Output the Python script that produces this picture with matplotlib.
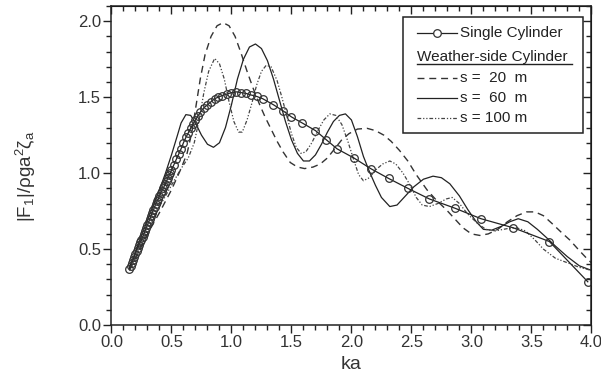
import matplotlib
matplotlib.use("Agg")
import matplotlib.pyplot as plt
from matplotlib.patches import Rectangle
from matplotlib.ticker import MultipleLocator, FormatStrFormatter

plt.rcParams['font.family'] = ['Liberation Sans', 'DejaVu Sans']
plt.rcParams['mathtext.fontset'] = 'custom'
plt.rcParams['mathtext.rm'] = 'Liberation Sans'
plt.rcParams['mathtext.it'] = 'Liberation Sans'

# single cylinder (markers at every point, very dense at low ka)
single_ka = [0.15, 0.16, 0.17, 0.18, 0.19, 0.20, 0.21, 0.22, 0.23, 0.24,
             0.25, 0.26, 0.27, 0.28, 0.29, 0.30, 0.31, 0.32, 0.33, 0.34,
             0.35, 0.36, 0.37, 0.38, 0.39, 0.40, 0.41, 0.42, 0.43, 0.44,
             0.45, 0.46, 0.47, 0.48, 0.49, 0.50,
             0.52, 0.54, 0.56, 0.58, 0.60, 0.62, 0.64, 0.66, 0.68, 0.70, 0.72,
             0.74, 0.77, 0.80, 0.83, 0.86, 0.89, 0.92,
             0.96, 1.00, 1.04, 1.08, 1.12, 1.16, 1.21, 1.26,
             1.35, 1.43, 1.50, 1.59, 1.70, 1.79, 1.88,
             2.02, 2.16, 2.31, 2.47, 2.65, 2.86, 3.08, 3.35, 3.65, 3.97]
single_f = [0.37, 0.39, 0.41, 0.43, 0.45, 0.47, 0.49, 0.51, 0.53, 0.545,
            0.56, 0.58, 0.60, 0.62, 0.64, 0.66, 0.68, 0.70, 0.72, 0.74,
            0.76, 0.78, 0.80, 0.815, 0.83, 0.85, 0.87, 0.885, 0.90, 0.915,
            0.93, 0.95, 0.97, 0.985, 1.00, 1.02,
            1.055, 1.09, 1.125, 1.16, 1.20, 1.235, 1.265, 1.295, 1.325, 1.35, 1.375,
            1.40, 1.43, 1.45, 1.47, 1.49, 1.50, 1.51,
            1.52, 1.53, 1.535, 1.53, 1.525, 1.515, 1.505, 1.49,
            1.45, 1.41, 1.37, 1.33, 1.28, 1.22, 1.16,
            1.10, 1.03, 0.965, 0.90, 0.83, 0.77, 0.70, 0.64, 0.55, 0.285]

# weather-side cylinder, s = 20 m
s20_ka = [0.15, 0.3, 0.4, 0.5, 0.58, 0.63, 0.67, 0.7, 0.74, 0.78, 0.83, 0.88,
          0.93, 0.98, 1.03, 1.08, 1.13, 1.18, 1.23, 1.28, 1.33, 1.38, 1.43,
          1.49, 1.55, 1.61, 1.68, 1.74, 1.8, 1.86, 1.92, 1.98, 2.05, 2.13,
          2.2, 2.27, 2.33, 2.40, 2.47, 2.54, 2.63, 2.71, 2.79, 2.86, 2.93,
          3.0, 3.07, 3.14, 3.22, 3.3, 3.38, 3.46, 3.53, 3.6, 3.67, 3.75,
          3.82, 3.9, 3.96, 4.0]
s20_f = [0.36, 0.60, 0.74, 0.89, 1.03, 1.13, 1.27, 1.42, 1.62, 1.78, 1.90, 1.97,
         1.99, 1.97, 1.90, 1.79, 1.67, 1.56, 1.46, 1.37, 1.29, 1.21, 1.14,
         1.07, 1.04, 1.03, 1.04, 1.06, 1.10, 1.16, 1.22, 1.26, 1.29, 1.295,
         1.28, 1.25, 1.21, 1.15, 1.08, 0.99, 0.89, 0.82, 0.76, 0.70, 0.64,
         0.60, 0.59, 0.60, 0.63, 0.68, 0.72, 0.745, 0.745, 0.72, 0.67, 0.61,
         0.56, 0.49, 0.44, 0.41]

# s = 60 m
s60_ka = [0.15, 0.3, 0.4, 0.45, 0.5, 0.55, 0.58, 0.62, 0.66, 0.7, 0.75, 0.8,
          0.85, 0.9, 0.95, 1.0, 1.05, 1.1, 1.15, 1.2, 1.25, 1.3, 1.35, 1.4,
          1.45, 1.5, 1.55, 1.6, 1.65, 1.7, 1.75, 1.8, 1.85, 1.9, 1.95, 2.0,
          2.05, 2.1, 2.15, 2.2, 2.25, 2.32, 2.38, 2.45, 2.52, 2.6, 2.68, 2.75,
          2.82, 2.9, 2.97, 3.04, 3.1, 3.17, 3.25, 3.32, 3.39, 3.47, 3.55,
          3.62, 3.7, 3.8, 3.9, 4.0]
s60_f = [0.38, 0.69, 0.89, 1.00, 1.12, 1.25, 1.33, 1.385, 1.38, 1.33, 1.25, 1.19,
         1.17, 1.20, 1.30, 1.45, 1.62, 1.75, 1.83, 1.85, 1.82, 1.74, 1.62, 1.48,
         1.34, 1.22, 1.13, 1.08, 1.08, 1.12, 1.19, 1.27, 1.34, 1.38, 1.39, 1.35,
         1.24, 1.11, 1.01, 0.92, 0.84, 0.78, 0.79, 0.85, 0.91, 0.96, 0.98, 0.97,
         0.93, 0.85, 0.76, 0.68, 0.63, 0.625, 0.65, 0.68, 0.70, 0.68, 0.63,
         0.58, 0.52, 0.45, 0.39, 0.36]

# s = 100 m
s100_ka = [0.15, 0.3, 0.4, 0.5, 0.58, 0.64, 0.69, 0.73, 0.77, 0.81, 0.86, 0.9,
           0.94, 0.98, 1.02, 1.06, 1.09, 1.13, 1.17, 1.21, 1.25, 1.29, 1.33,
           1.38, 1.42, 1.46, 1.5, 1.54, 1.58, 1.62, 1.67, 1.72, 1.77, 1.82,
           1.87, 1.92, 1.97, 2.02, 2.06, 2.10, 2.15, 2.2, 2.26, 2.32, 2.37,
           2.43, 2.49, 2.54, 2.59, 2.65, 2.72, 2.79, 2.84, 2.9, 2.97, 3.05,
           3.12, 3.2, 3.3, 3.38, 3.45, 3.53, 3.6, 3.7, 3.8, 3.9, 4.0]
s100_f = [0.36, 0.62, 0.78, 0.92, 1.03, 1.10, 1.20, 1.35, 1.53, 1.67, 1.755, 1.72,
          1.62, 1.47, 1.34, 1.27, 1.27, 1.35, 1.46, 1.58, 1.67, 1.71, 1.70,
          1.61, 1.50, 1.38, 1.26, 1.17, 1.13, 1.14, 1.20, 1.28, 1.35, 1.39,
          1.38, 1.32, 1.21, 1.085, 0.99, 0.95, 0.97, 1.02, 1.06, 1.08, 1.06,
          1.00, 0.92, 0.84, 0.79, 0.78, 0.80, 0.83, 0.84, 0.80, 0.73, 0.67,
          0.63, 0.62, 0.635, 0.64, 0.62, 0.56, 0.50, 0.44, 0.41, 0.38, 0.36]

fig = plt.figure(figsize=(6.01, 3.87), dpi=100)
ax = fig.add_axes([0.1855, 0.160, 0.7985, 0.8245])

ink = '#222222'
s20_style = dict(color='#333333', lw=1.0, dashes=(5, 3.5))
s60_style = dict(color=ink, lw=0.9)
s100_style = dict(color='#444444', lw=0.9, dashes=(3, 1.5, 1, 1.5, 1, 1.5))
ax.plot(s20_ka, s20_f, **s20_style)
ax.plot(s60_ka, s60_f, **s60_style)
ax.plot(s100_ka, s100_f, **s100_style)
ax.plot(single_ka, single_f, color=ink, lw=0.9, marker='o', ms=5.5,
        mfc='none', mec='#333333', mew=0.9)

ax.set_xlim(0, 4.0)
ax.set_ylim(0, 2.1)
ax.xaxis.set_major_locator(MultipleLocator(0.5))
ax.xaxis.set_minor_locator(MultipleLocator(0.1))
ax.yaxis.set_major_locator(MultipleLocator(0.5))
ax.yaxis.set_minor_locator(MultipleLocator(0.1))
ax.xaxis.set_major_formatter(FormatStrFormatter('%.1f'))
ax.yaxis.set_major_formatter(FormatStrFormatter('%.1f'))

ax.tick_params(which='both', direction='out', colors=ink, labelsize=12,
               width=1.0, labelcolor='#333333', pad=2)
ax.tick_params(which='major', length=5.5)
ax.tick_params(which='minor', length=3.5)
for sp in ax.spines.values():
    sp.set_linewidth(1.1)
    sp.set_color(ink)

# inward ticks on top and right
ax_top = ax.secondary_xaxis('top')
ax_top.xaxis.set_major_locator(MultipleLocator(0.5))
ax_top.xaxis.set_minor_locator(MultipleLocator(0.1))
ax_top.tick_params(which='both', direction='in', labeltop=False, width=1.0, colors=ink)
ax_top.tick_params(which='major', length=5.5)
ax_top.tick_params(which='minor', length=3.5)
ax_right = ax.secondary_yaxis('right')
ax_right.yaxis.set_major_locator(MultipleLocator(0.5))
ax_right.yaxis.set_minor_locator(MultipleLocator(0.1))
ax_right.tick_params(which='both', direction='in', labelright=False, width=1.0, colors=ink)
ax_right.tick_params(which='major', length=5.5)
ax_right.tick_params(which='minor', length=3.5)

ax.set_xlabel('ka', fontsize=14, color='#333333', labelpad=4)
fig.text(0.044, 0.545, r'|F$_1$|/ρga$^2$ζ$_a$', rotation=90, fontsize=13.5,
         color='#333333', ha='center', va='center')

# legend drawn by hand
tr = ax.transAxes
ax.add_patch(Rectangle((0.607, 0.602), 0.375, 0.364, transform=tr,
                       fill=True, fc='white', ec=ink, lw=1.1, zorder=5))
hx = [0.636, 0.719]
ax.plot(hx, [0.915, 0.915], transform=tr, color=ink, lw=0.9, zorder=6)
ax.plot([0.678], [0.915], transform=tr, marker='o', ms=5.5, mfc='white',
        mec='#333333', mew=0.9, zorder=7)
ax.plot(hx, [0.773, 0.773], transform=tr, zorder=6, **s20_style)
ax.plot(hx, [0.711, 0.711], transform=tr, zorder=6, **s60_style)
ax.plot(hx, [0.648, 0.648], transform=tr, zorder=6, **s100_style)
lab_kw = dict(transform=tr, fontsize=11, va='center', ha='left',
              color='#222222', zorder=7)
ax.text(0.726, 0.915, 'Single Cylinder', **lab_kw)
ax.text(0.636, 0.841, 'Weather-side Cylinder', **lab_kw)
ax.plot([0.636, 0.959], [0.818, 0.818], transform=tr, color=ink, lw=1.0, zorder=7)
ax.text(0.726, 0.773, 's =  20  m', **lab_kw)
ax.text(0.726, 0.711, 's =  60  m', **lab_kw)
ax.text(0.726, 0.648, 's = 100 m', **lab_kw)

fig.savefig('out.png', dpi=100)
